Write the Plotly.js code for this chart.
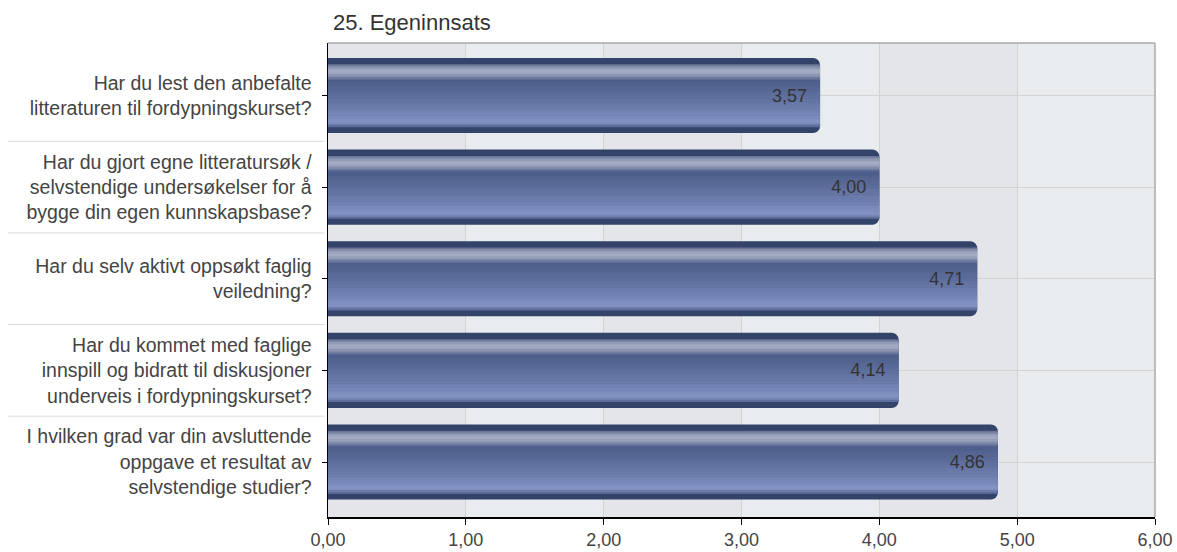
<!DOCTYPE html>
<html>
<head>
<meta charset="utf-8">
<script src="https://cdn.plot.ly/plotly-3.0.1.min.js"></script>
<style>html,body{margin:0;padding:0;background:#fff;}#chart{width:1177px;height:552px;}</style>
</head>
<body>
<div id="chart"></div>
<script>
const chartTitle = '25. Egeninnsats';
const categories = [
  'Har du lest den anbefalte<br>litteraturen til fordypningskurset?',
  'Har du gjort egne litteratursøk /<br>selvstendige undersøkelser for å<br>bygge din egen kunnskapsbase?',
  'Har du selv aktivt oppsøkt faglig<br>veiledning?',
  'Har du kommet med faglige<br>innspill og bidratt til diskusjoner<br>underveis i fordypningskurset?',
  'I hvilken grad var din avsluttende<br>oppgave et resultat av<br>selvstendige studier?'
];
const values = [3.57, 4.00, 4.71, 4.14, 4.86];
const xTickValues = [0, 1, 2, 3, 4, 5, 6];
const xTickLabels = ['0,00', '1,00', '2,00', '3,00', '4,00', '5,00', '6,00'];

const FONT = '"Liberation Sans", Arial, sans-serif';
const W = 0.82;

// gradient stops (fraction from top of bar -> color)
const stops = [
  [0.00, [51, 67, 106]], [0.06, [60, 75, 114]], [0.12, [138, 147, 176]],
  [0.18, [169, 176, 200]], [0.24, [136, 145, 176]], [0.30, [78, 94, 139]],
  [0.50, [94, 110, 156]], [0.70, [112, 128, 176]], [0.86, [132, 148, 196]],
  [0.91, [90, 106, 152]], [0.95, [58, 74, 114]], [1.00, [51, 67, 106]]
];
function colorAt(f) {
  for (let i = 0; i < stops.length - 1; i++) {
    const [a, ca] = stops[i], [b, cb] = stops[i + 1];
    if (f >= a && f <= b) {
      const t = (f - a) / (b - a);
      const c = ca.map((v, k) => Math.round(v + (cb[k] - v) * t));
      return `rgb(${c[0]},${c[1]},${c[2]})`;
    }
  }
  return 'rgb(51,67,106)';
}

const traces = [];
traces.push({
  type: 'bar', orientation: 'h', x: values, y: categories,
  width: W, marker: {color: 'rgb(51,67,106)', cornerradius: 7, line: {width: 0}},
  hoverinfo: 'skip', showlegend: false
});
const f0 = 0.085, f1 = 0.915, N = 44;
const step = (f1 - f0) / N;
for (let i = 0; i < N; i++) {
  const f = f0 + i * step;
  traces.push({
    type: 'bar', orientation: 'h', x: values, y: categories,
    width: W * step * 1.35, offset: -W / 2 + f * W,
    marker: {color: colorAt(f + step / 2), line: {width: 0}},
    hoverinfo: 'skip', showlegend: false
  });
}
traces.push({
  type: 'bar', orientation: 'h', x: values, y: categories,
  width: W, marker: {color: 'rgba(0,0,0,0)', line: {width: 0}},
  text: values.map(v => v.toFixed(2).replace('.', ',') + '\u00a0\u00a0'),
  textposition: 'inside', insidetextanchor: 'end', constraintext: 'none',
  textfont: {family: FONT, size: 18, color: '#333333'},
  hoverinfo: 'skip', showlegend: false
});

const shapes = [];
for (let i = 0; i < xTickValues.length - 1; i += 2) {
  shapes.push({type: 'rect', xref: 'x', yref: 'paper', x0: xTickValues[i], x1: xTickValues[i + 1], y0: 0, y1: 1,
    fillcolor: '#e4e5e8', line: {width: 0}, layer: 'below'});
}
for (let i = 0; i < categories.length - 1; i++) {
  shapes.push({type: 'line', xref: 'paper', yref: 'y', x0: -0.387, x1: -0.004, y0: i + 0.5, y1: i + 0.5,
    line: {color: '#dadada', width: 1}});
}
shapes.push({type: 'line', xref: 'paper', yref: 'paper', x0: 0, x1: 1, y0: 1, y1: 1, line: {color: '#a8a8a8', width: 1.5}});
shapes.push({type: 'line', xref: 'paper', yref: 'paper', x0: 1, x1: 1, y0: 0, y1: 1, line: {color: '#a8a8a8', width: 1.5}});

const layout = {
  width: 1177, height: 552,
  margin: {l: 328, r: 22, t: 43, b: 35, pad: 0},
  paper_bgcolor: '#ffffff', plot_bgcolor: '#e9ecef',
  barmode: 'overlay', separators: ',.',
  font: {family: FONT, color: '#444444'},
  title: {text: chartTitle, font: {family: FONT, size: 22, color: '#333333'},
    xref: 'container', yref: 'container', x: 333 / 1177, xanchor: 'left', y: 1 - 22 / 552, yanchor: 'middle'},
  xaxis: {range: [0, 6], tickvals: xTickValues, ticktext: xTickLabels,
    showline: true, linecolor: '#000000', linewidth: 1.5, ticks: 'outside', ticklen: 6, tickcolor: '#000000',
    showgrid: true, gridcolor: '#d3d3d3', gridwidth: 1, zeroline: false,
    tickfont: {family: FONT, size: 18, color: '#444444'}, fixedrange: true},
  yaxis: {type: 'category', categoryarray: categories, range: [4.6, -0.573],
    showline: true, linecolor: '#000000', linewidth: 1.5, ticks: 'outside', ticklen: 5, tickcolor: '#000000',
    showgrid: true, gridcolor: '#d3d3d3', gridwidth: 1, zeroline: false, ticklabelstandoff: 6,
    tickfont: {family: FONT, size: 19.5, color: '#444444'}, fixedrange: true},
  shapes: shapes,
  showlegend: false
};

Plotly.newPlot('chart', traces, layout, {displayModeBar: false, staticPlot: true});
</script>
</body>
</html>
